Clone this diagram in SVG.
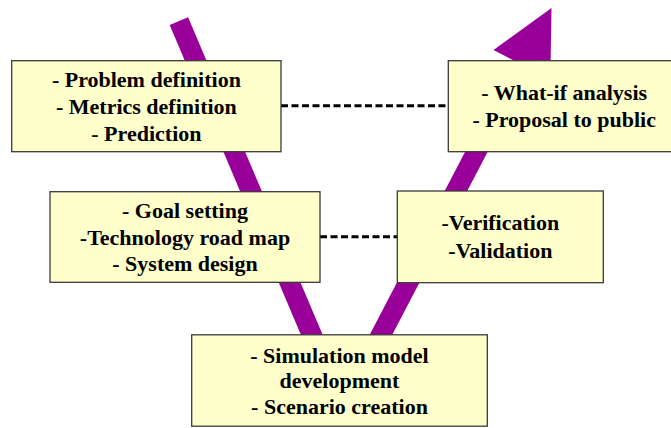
<svg xmlns="http://www.w3.org/2000/svg" width="671" height="428" viewBox="0 0 671 428">
<style>
.box{fill:#FFFFCC;stroke:#3a3a3a;stroke-width:1.3}
.t{font-family:"Liberation Serif","Times New Roman",serif;font-weight:bold;font-size:22px;fill:#000;text-anchor:middle}
.stripe{stroke:#990099;stroke-width:20;fill:none}
.dash{stroke:#000;stroke-width:3;stroke-dasharray:7 3.5;fill:none}
</style>
<rect width="671" height="428" fill="#fff"/>
<g id="connectors">
<line class="stripe" x1="178.9" y1="21.2" x2="316.1" y2="345"/>
<line class="stripe" x1="376.2" y1="343.9" x2="523" y2="62.5"/>
<polygon points="551.5,8 493.5,49.9 550.3,79.5" fill="#990099"/>
<line class="dash" x1="281" y1="105.7" x2="449" y2="105.7"/>
<line class="dash" x1="320" y1="236.7" x2="398" y2="236.7"/>
</g>
<g id="n1">
<rect class="box" x="11.7" y="60.7" width="269.3" height="91"/>
<text class="t" x="146.4" y="86.7">- Problem definition</text>
<text class="t" x="146.4" y="114.3">- Metrics definition</text>
<text class="t" x="146.4" y="141">- Prediction</text>
</g>
<g id="n2">
<rect class="box" x="448.3" y="60.7" width="232" height="91"/>
<text class="t" x="564.2" y="100">- What-if analysis</text>
<text class="t" x="564.2" y="126.7">- Proposal to public</text>
</g>
<g id="n3">
<rect class="box" x="50" y="191.7" width="270" height="90.6"/>
<text class="t" x="185" y="218.3">- Goal setting</text>
<text class="t" x="185" y="245">-Technology road map</text>
<text class="t" x="185" y="271">- System design</text>
</g>
<g id="n4">
<rect class="box" x="397.3" y="191" width="206" height="91.7"/>
<text class="t" x="500.3" y="230">-Verification</text>
<text class="t" x="500.3" y="257.7">-Validation</text>
</g>
<g id="n5">
<rect class="box" x="191.7" y="334.8" width="295.6" height="91.4"/>
<text class="t" x="339.5" y="362.7">- Simulation model</text>
<text class="t" x="339.5" y="388.3">development</text>
<text class="t" x="339.5" y="414.3">- Scenario creation</text>
</g>
</svg>
